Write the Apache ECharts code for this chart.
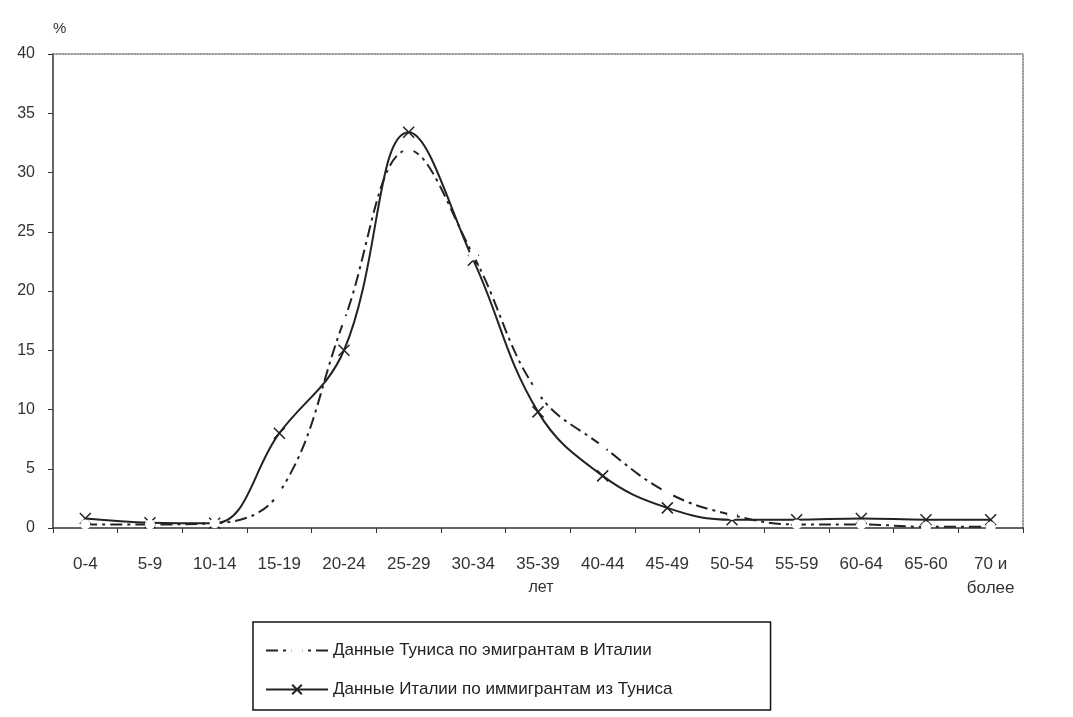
<!DOCTYPE html>
<html>
<head>
<meta charset="utf-8">
<script src="https://cdn.jsdelivr.net/npm/echarts@6/dist/echarts.min.js"></script>
<style>
html,body{margin:0;padding:0;background:#fff;}
#c{width:1073px;height:717px;}
</style>
</head>
<body>
<div id="c"></div>
<script>
const categories = ['0-4','5-9','10-14','15-19','20-24','25-29','30-34','35-39','40-44','45-49','50-54','55-59','60-64','65-60','70 и\nболее'];
const tunisiaValues = [0.3, 0.3, 0.4, 3.0, 17.5, 31.9, 23.0, 11.4, 6.9, 3.0, 1.1, 0.3, 0.3, 0.1, 0.1];
const italyValues = [0.8, 0.45, 0.4, 8.0, 15.0, 33.4, 22.6, 9.8, 4.4, 1.7, 0.7, 0.7, 0.8, 0.7, 0.7];
const seriesNames = ['Данные Туниса по эмигрантам в Италии', 'Данные Италии по иммигрантам из Туниса'];
const yMin = 0, yMax = 40, yStep = 5;

const chart = echarts.init(document.getElementById('c'));
const font = 'Liberation Sans, Arial, sans-serif';
chart.setOption({
  backgroundColor: '#fff',
  animation: false,
  textStyle: {fontFamily: font},
  grid: {left: 53, right: 50, top: 54, bottom: 189, containLabel: false},
  legend: {
    orient: 'vertical',
    left: 253, top: 622,
    borderColor: '#111', borderWidth: 1.5,
    padding: [20, 98, 12, 12],
    itemWidth: 62, itemHeight: 12, itemGap: 22,
    textStyle: {fontSize: 17, color: '#222', fontFamily: font},
    data: seriesNames
  },
  xAxis: [{
    type: 'category',
    data: categories,
    boundaryGap: true,
    axisLine: {lineStyle: {color: '#333', width: 1.5}},
    axisTick: {show: true, inside: false, length: 5, lineStyle: {color: '#333'}},
    axisLabel: {fontSize: 17, color: '#333', margin: 24, lineHeight: 24, interval: 0},
    name: 'лет',
    nameLocation: 'middle',
    nameGap: 60,
    nameMoveOverlap: false,
    nameTextStyle: {fontSize: 16, color: '#333', verticalAlign: 'middle', padding: [0, 0, 0, 6]}
  }, {
    type: 'category',
    data: categories,
    position: 'top',
    axisLine: {show: true, onZero: false, lineStyle: {color: '#777', width: 1.5, type: 'dotted'}},
    axisTick: {show: false},
    axisLabel: {show: false}
  }],
  yAxis: [{
    type: 'value',
    min: yMin, max: yMax, interval: yStep,
    axisLine: {show: true, lineStyle: {color: '#333', width: 1.5}},
    axisTick: {show: true, length: 5, lineStyle: {color: '#333'}},
    axisLabel: {fontSize: 16, color: '#333', margin: 18},
    splitLine: {show: false},
    name: '%',
    nameLocation: 'end',
    nameGap: 18,
    nameTextStyle: {fontSize: 15, color: '#333', align: 'left'}
  }, {
    type: 'value',
    min: yMin, max: yMax, interval: yStep,
    position: 'right',
    axisLine: {show: true, onZero: false, lineStyle: {color: '#777', width: 1.5, type: 'dotted'}},
    axisTick: {show: false},
    axisLabel: {show: false},
    splitLine: {show: false}
  }],
  series: [{
    name: seriesNames[0],
    type: 'line',
    data: tunisiaValues,
    smooth: 0.4,
    symbol: 'emptyCircle',
    symbolSize: 8,
    lineStyle: {color: '#222', width: 2, type: [12, 5, 3, 5]},
    itemStyle: {color: '#fff', borderColor: '#222', borderWidth: 1.5},
    z: 3
  }, {
    name: seriesNames[1],
    type: 'line',
    data: italyValues,
    smooth: 0.4,
    symbol: 'path://M0 0L10 10M10 0L0 10',
    symbolSize: 11,
    lineStyle: {color: '#222', width: 2},
    itemStyle: {color: '#222', borderColor: '#222', borderWidth: 1.5},
    z: 2
  }]
});
</script>
</body>
</html>
